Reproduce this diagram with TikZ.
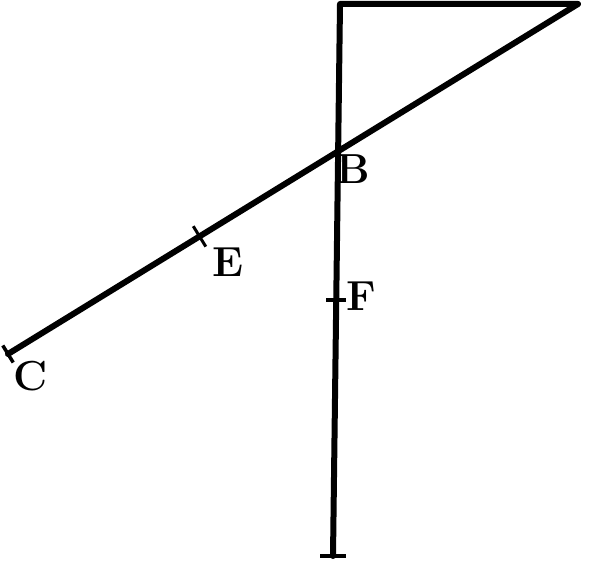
\documentclass[tikz,border=0pt]{standalone}
\usepackage{fontspec}
\usepackage{tikz}
\usetikzlibrary{calc,intersections}

\tikzset{
  letter/.style={font=\fontsize{42}{42}\selectfont\bfseries, inner sep=0pt},
  stroke/.style={line width=6pt, line cap=round, line join=round}
}

\begin{document}
\begin{tikzpicture}[x=1pt, y=-1pt]
            \useasboundingbox (0, 0) rectangle (589, 561);
            \coordinate (A) at (340, 4);
            \coordinate (D) at (578, 4);
            \coordinate (C) at (8, 354);
            \coordinate (G) at (333, 556);
            \path[name path=slant] (D) -- (C);
            \path[name path=upright] (A) -- (G);
            \path[name intersections={of=slant and upright, by=B}];
            \coordinate (E) at ($(D)!0.664!(C)$);
            \coordinate (F) at ($(A)!0.536!(G)$);
            \draw [stroke] (G) -- (A) -- (D) -- (C);
            \draw [line width=3.5pt] ($(C)!10pt!90:(D)$) -- ($(C)!10pt!-90:(D)$);
            \draw [line width=3pt] ($(E)!12pt!90:(D)$) -- ($(E)!12pt!-90:(D)$);
            \draw [line width=3.5pt] ($(F) + (-10, 0)$) -- ($(F) + (10, 0)$);
            \draw [line width=3.5pt] ($(G) + (-13, 0)$) -- ($(G) + (13, 0)$);
            \node[letter] (lb) at (353, 169) {B};
            \node[letter] (le) at (228, 262) {E};
            \node[letter] (lf) at (361, 296) {F};
            \node[letter] (lc) at (31, 376) {C};
          \end{tikzpicture}
\end{document}
